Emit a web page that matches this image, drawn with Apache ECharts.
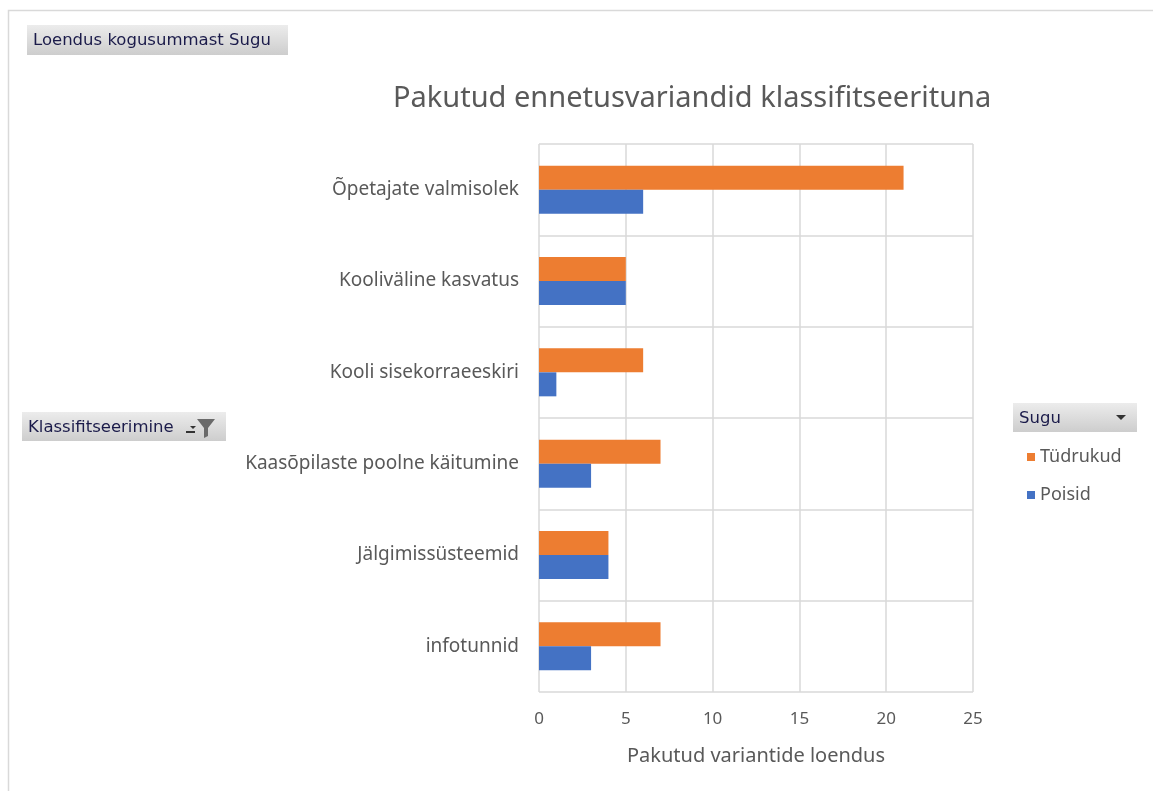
<!DOCTYPE html>
<html>
<head>
<meta charset="utf-8">
<script src="https://cdn.jsdelivr.net/npm/echarts@6/dist/echarts.min.js"></script>
<style>
  html, body { margin: 0; padding: 0; background: #fff; }
  #chart { width: 1153px; height: 791px; }
</style>
</head>
<body>
<div id="chart"></div>
<script>
// categories bottom to top, as the value axis draws them
var categories = ['infotunnid', 'Jälgimissüsteemid', 'Kaasõpilaste poolne käitumine', 'Kooli sisekorraeeskiri', 'Kooliväline kasvatus', 'Õpetajate valmisolek'];
var tydrukud = [7, 4, 7, 6, 5, 21];
var poisid = [3, 4, 3, 1, 5, 6];
var xTicks = [0, 25, 5]; // min, max, interval

var font = 'Noto Sans';
var gray = '#595959';

var myChart = echarts.init(document.getElementById('chart'));

// pivot-table style button
function button(x, y, w, h, label) {
    return {
        type: 'group',
        children: [
            {
                type: 'rect',
                shape: { x: x, y: y, width: w, height: h },
                style: {
                    fill: new echarts.graphic.LinearGradient(0, 0, 0, 1, [
                        { offset: 0, color: '#ececec' },
                        { offset: 1, color: '#cdcdcd' }
                    ])
                }
            },
            {
                type: 'text',
                x: x + 6, y: y + h / 2 + 1,
                style: { text: label, fill: '#1b1b4a', font: '16.5px "DejaVu Sans", sans-serif', verticalAlign: 'middle' }
            }
        ]
    };
}

var option = {
    animation: false,
    title: {
        text: 'Pakutud ennetusvariandid klassifitseerituna',
        left: 388,
        top: 79,
        textStyle: { fontFamily: font, fontSize: 29, fontWeight: 'normal', color: gray }
    },
    legend: {
        data: ['Tüdrukud', 'Poisid'],
        orient: 'vertical',
        left: 1022,
        top: 443,
        itemWidth: 8,
        itemHeight: 8,
        itemGap: 20,
        icon: 'rect',
        textStyle: { fontFamily: font, fontSize: 18, color: gray }
    },
    grid: { left: 539, top: 144, width: 434, height: 548, containLabel: false },
    xAxis: {
        type: 'value',
        min: xTicks[0],
        max: xTicks[1],
        interval: xTicks[2],
        name: 'Pakutud variantide loendus',
        nameLocation: 'middle',
        nameGap: 54,
        nameTextStyle: { fontFamily: font, fontSize: 20, color: gray },
        axisLine: { show: false },
        axisTick: { show: false },
        axisLabel: { fontFamily: font, fontSize: 17, color: gray, margin: 19 },
        splitLine: { lineStyle: { color: '#d9d9d9', width: 1.5 } }
    },
    yAxis: {
        type: 'category',
        data: categories,
        axisLine: { show: false },
        axisTick: { show: false },
        axisLabel: { fontFamily: font, fontSize: 19, color: gray, margin: 20 },
        splitLine: { show: true, lineStyle: { color: '#d9d9d9', width: 1.5 } }
    },
    series: [
        {
            name: 'Tüdrukud',
            type: 'bar',
            data: tydrukud,
            barWidth: 24,
            barGap: '0%',
            itemStyle: { color: '#ed7d31' }
        },
        {
            name: 'Poisid',
            type: 'bar',
            data: poisid,
            barWidth: 24,
            barGap: '0%',
            itemStyle: { color: '#4472c4' }
        }
    ],
    graphic: [
        {
            type: 'rect',
            shape: { x: 8.5, y: 10.5, width: 1300, height: 900 },
            style: { fill: 'none', stroke: '#d9d9d9', lineWidth: 1.5 },
            silent: true
        },
        button(27, 25, 261, 30, 'Loendus kogusummast Sugu'),
        button(22, 412, 204, 29, 'Klassifitseerimine'),
        // dropdown + filter icons
        { type: 'rect', shape: { x: 186, y: 431, width: 9, height: 2 }, style: { fill: '#333' } },
        { type: 'polygon', shape: { points: [[190, 426], [196, 426], [193, 429]] }, style: { fill: '#333' } },
        { type: 'polygon', shape: { points: [[197, 419], [215, 419], [208, 428], [208, 436], [204, 438], [204, 428]] }, style: { fill: '#6a6a6a' } },
        button(1013, 403, 124, 29, 'Sugu'),
        { type: 'polygon', shape: { points: [[1116, 415], [1126, 415], [1121, 420]] }, style: { fill: '#333' } }
    ]
};

myChart.setOption(option, true);
</script>
</body>
</html>
